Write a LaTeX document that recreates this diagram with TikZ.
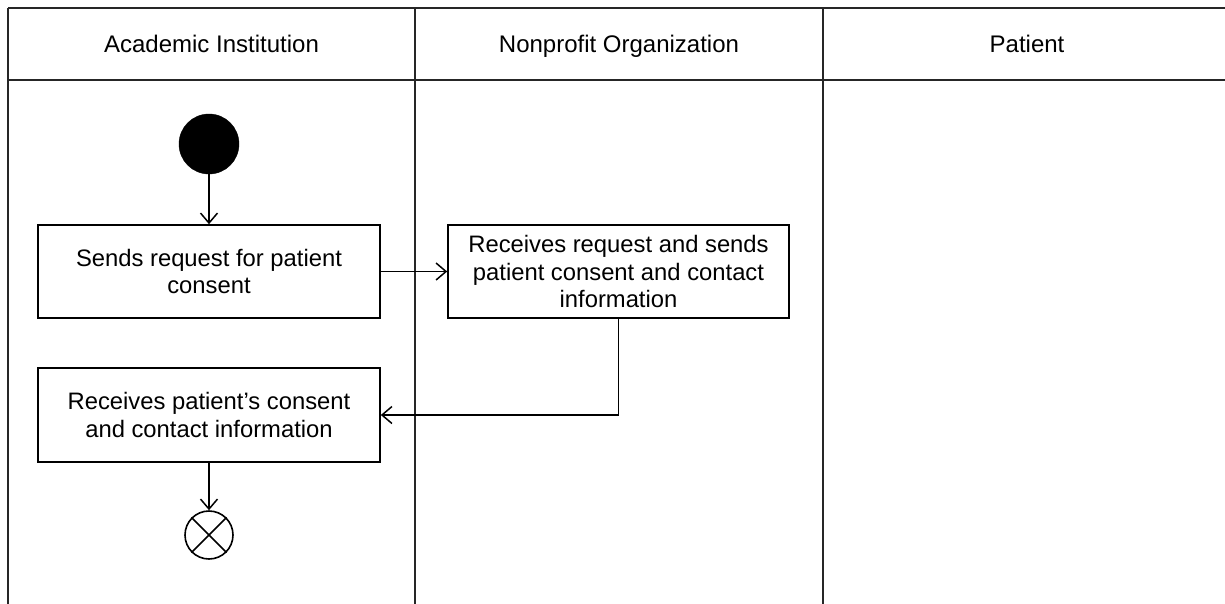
\documentclass[tikz,border=0pt]{standalone}
\usepackage{fontspec}
\setmainfont{Liberation Sans}
\usetikzlibrary{arrows.meta}
\begin{document}
\begin{tikzpicture}[x=1pt,y=-1pt,
  lane/.style={line width=1.9pt, draw=black!85},
  lanetitle/.style={font=\fontsize{24}{28}\selectfont, anchor=base, inner sep=0pt},
  actbox/.style={draw, line width=1.6pt, rectangle, minimum width=342pt, minimum height=93pt,
    align=center, inner sep=0pt, font=\fontsize{23.8}{27.5}\selectfont},
  startnode/.style={circle, fill=black, draw=black, minimum size=60pt, inner sep=0pt},
  endnode/.style={circle, draw, line width=1.6pt, minimum size=48pt, inner sep=0pt},
  flow/.style={line width=1.5pt, -{Straight Barb[length=10pt,width=17pt,line width=1.5pt]}}
]
\useasboundingbox (0,0) rectangle (1225,603);
% swimlanes
\draw[lane] (8,8) -- (1226,8);
\draw[lane] (8,80) -- (1226,80);
\draw[lane] (8,8) -- (8,604);
\draw[lane] (415,8) -- (415,604);
\draw[lane] (823,8) -- (823,604);
\node[lanetitle] (t1) at (211.5,52) {Academic Institution};
\node[lanetitle] (t2) at (619,52) {Nonprofit Organization};
\node[lanetitle] (t3) at (1027,52) {Patient};
% nodes
\node[startnode] (start) at (209,144) {};
\node[actbox] (b1) at (209,271.5) {Sends request for patient\\consent};
\node[actbox, minimum width=341pt] (b2) at (618.5,271.5) {Receives request and sends\\patient consent and contact\\information};
\node[actbox, minimum height=94pt] (b3) at (209,415) {Receives patient’s consent\\and contact information};
\node[endnode] (end) at (209,535) {};
\draw[line width=1.6pt] (end.north west) -- (end.south east);
\draw[line width=1.6pt] (end.north east) -- (end.south west);
% connectors
\draw[flow] (start.south) -- (b1.north);
\draw[flow] (b1.east) -- (b2.west);
\draw[flow] (b2.south) -- (b2.south |- b3.east) -- (b3.east);
\draw[flow] (b3.south) -- (end.north);
\end{tikzpicture}
\end{document}
